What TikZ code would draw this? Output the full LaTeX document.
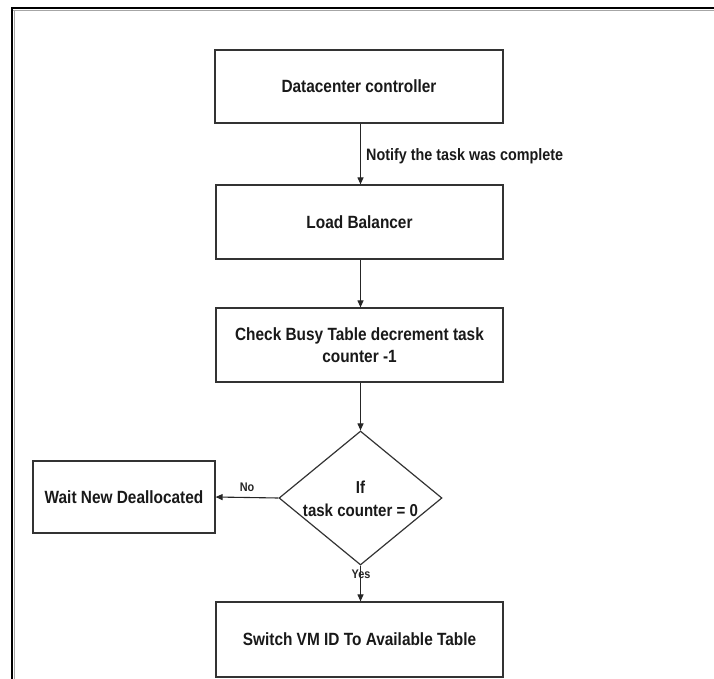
\documentclass[tikz,border=0pt]{standalone}
\usepackage{fontspec}
\setmainfont{Liberation Sans}[FakeStretch=0.87]
\usetikzlibrary{arrows.meta,shapes.geometric}

\tikzset{
  flowline/.style={draw=black!80, line width=1.2pt},
  procbox/.style={flowline, rectangle, minimum width=287pt, minimum height=74pt,
    inner sep=0pt, align=center, text=black!90,
    font=\fontsize{17.7}{22}\selectfont\bfseries},
  decbox/.style={flowline, diamond, minimum width=163pt, minimum height=134pt,
    inner sep=0pt},
  dectext/.style={align=center, text=black!90,
    font=\fontsize{17.3}{23}\selectfont\bfseries},
  conn/.style={draw=black!85, line width=1.1pt,
    -{Triangle[length=7pt,width=6pt]}},
  edgelabel/.style={text=black!90, inner sep=0pt,
    font=\fontsize{16.5}{20}\selectfont\bfseries},
  smalllabel/.style={text=black!85, inner sep=0pt,
    font=\fontsize{12.5}{15}\selectfont\bfseries},
}

\begin{document}
\begin{tikzpicture}[x=1pt, y=-1pt]
  \useasboundingbox (0,0) rectangle (714,679);

  % page frame (top and left edges, with a light shadow line)
  \coordinate (frameTL) at (12,8);
  \coordinate (frameTR) at (714,8);
  \coordinate (frameBL) at (12,679);
  \draw[black!35, line width=1.4pt] (13,10.5) -- (714,10.5);
  \draw[black!35, line width=1pt] (14.5,10) -- (14.5,679);
  \draw[black, line width=1.3pt] (frameTR) -- (frameTL) -- (frameBL);

  % process steps
  \node[procbox, minimum width=288pt, minimum height=73pt] (dc) at (359,86.5) {Datacenter controller};
  \node[procbox] (lb) at (359.5,222) {Load Balancer};
  \node[procbox] (chk) at (359.5,345) {Check Busy Table decrement task\\counter -1};
  \node[decbox] (dec) at (360.5,498) {};
  \node[dectext] (dectxt) at (360.5,498.5) {If\\task counter = 0};
  \node[procbox, minimum width=182pt, minimum height=72pt] (wait) at (124,497) {Wait New Deallocated};
  \node[procbox, minimum height=75pt] (sw) at (359.5,639.5) {Switch VM ID To Available Table};

  % connectors
  \draw[conn] (dc.south -| dec.north) -- (lb.north -| dec.north);
  \draw[conn] (lb.south -| dec.north) -- (chk.north -| dec.north);
  \draw[conn] (chk.south -| dec.north) -- (dec.north);
  \draw[conn] (dec.west) -- (wait.east);
  \draw[conn] (dec.south) -- (sw.north -| dec.south);

  % labels
  \node[edgelabel, anchor=west] (notify) at (366,156) {Notify the task was complete};
  \node[smalllabel] (nolbl) at (247,487) {No};
  \node[smalllabel] (yeslbl) at (361,574) {Yes};
\end{tikzpicture}
\end{document}
